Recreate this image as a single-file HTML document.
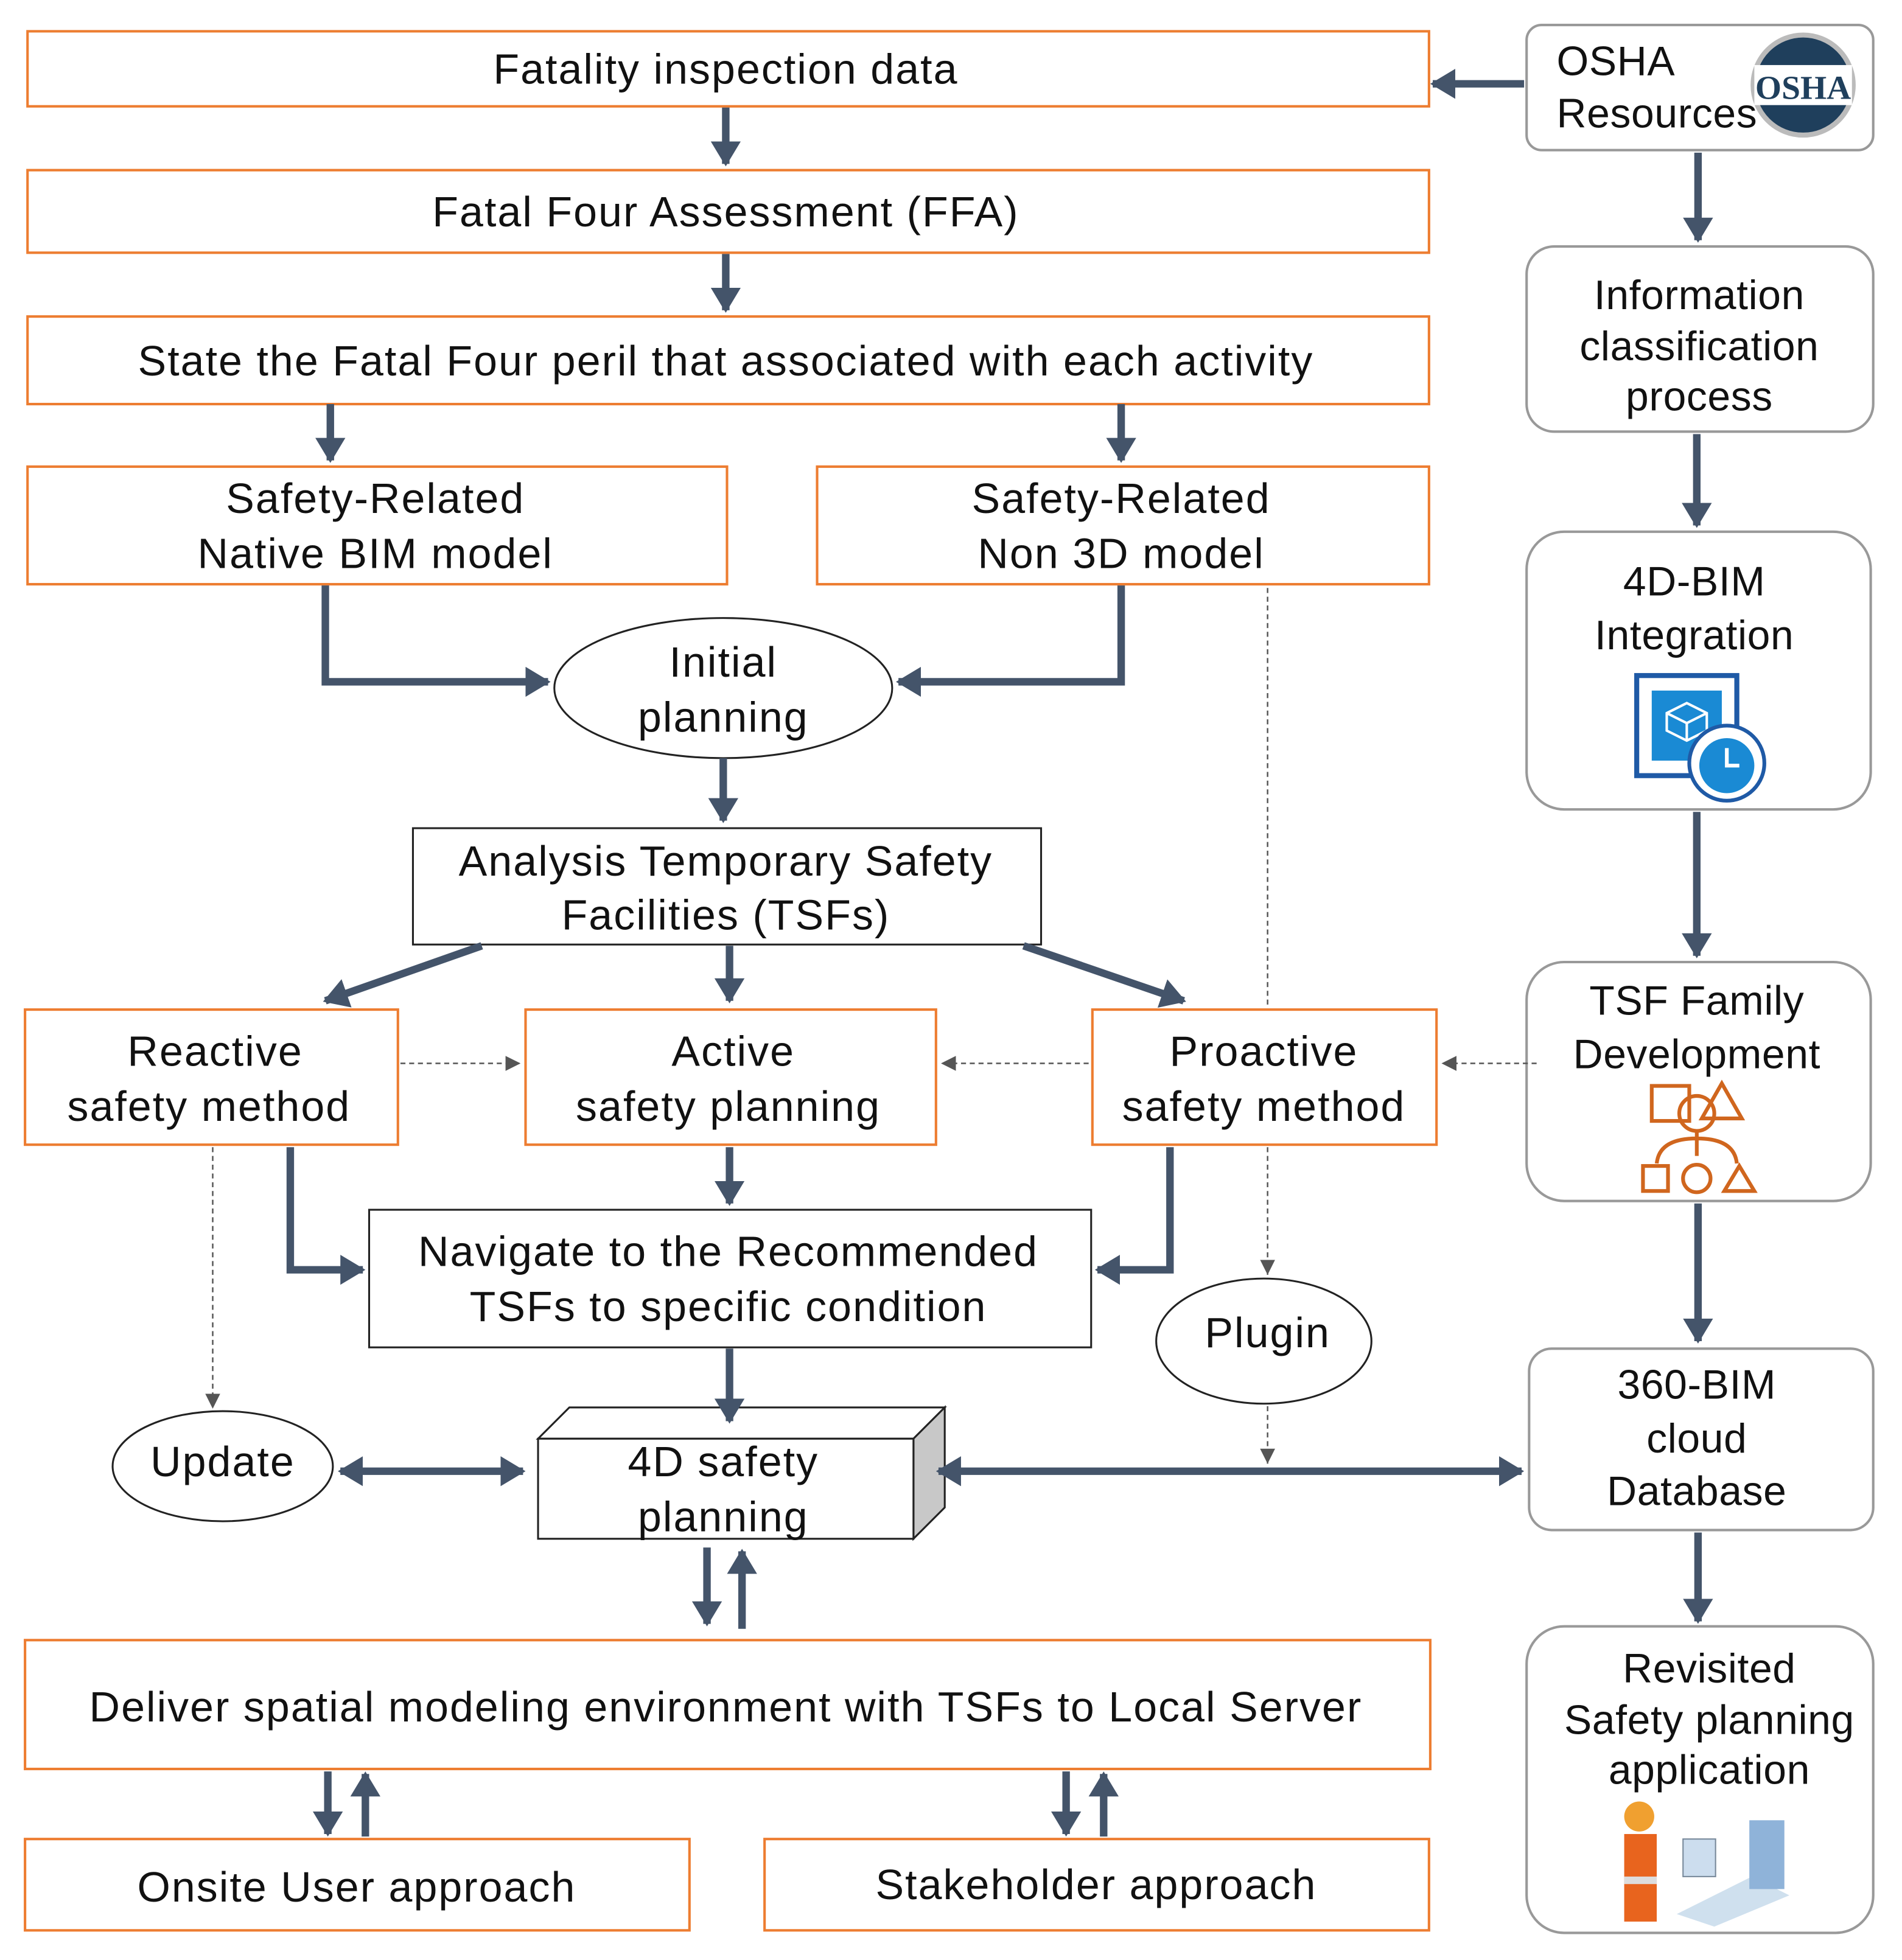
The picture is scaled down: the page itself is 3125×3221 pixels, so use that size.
<!DOCTYPE html>
<html><head><meta charset="utf-8"><style>html,body{margin:0;padding:0;background:#fff}svg{display:block}</style></head>
<body>
<svg width="3125" height="3221" viewBox="0 0 1520 1566.7" preserveAspectRatio="none" xmlns="http://www.w3.org/2000/svg" font-family="Liberation Sans, Arial, sans-serif" font-size="34" letter-spacing="1" fill="#111">
<defs>
<marker id="a" markerUnits="userSpaceOnUse" markerWidth="26" markerHeight="24" refX="18" refY="12" orient="auto"><path d="M0,0 L20,12 L0,24 Z" fill="#44546a"/></marker>
<marker id="b" markerUnits="userSpaceOnUse" markerWidth="26" markerHeight="24" refX="18" refY="12" orient="auto-start-reverse"><path d="M0,0 L20,12 L0,24 Z" fill="#44546a"/></marker>
<marker id="d" markerUnits="userSpaceOnUse" markerWidth="14" markerHeight="12" refX="12" refY="6" orient="auto"><path d="M0,0 L12,6 L0,12 Z" fill="#555"/></marker>
</defs>
<g fill="#fff" stroke="#ed7d31" stroke-width="2">
<rect x="22" y="25" width="1120" height="60"/>
<rect x="22" y="136" width="1120" height="66"/>
<rect x="22" y="253" width="1120" height="70"/>
<rect x="22" y="373" width="559" height="94"/>
<rect x="653" y="373" width="489" height="94"/>
<rect x="20" y="807" width="298" height="108"/>
<rect x="420" y="807" width="328" height="108"/>
<rect x="873" y="807" width="275" height="108"/>
<rect x="20" y="1311" width="1123" height="103"/>
<rect x="20" y="1470" width="531" height="73"/>
<rect x="611" y="1470" width="531" height="73"/>
</g>
<g fill="#fff" stroke="#222" stroke-width="1.5">
<rect x="330" y="662" width="502" height="93"/>
<rect x="295" y="967" width="577" height="110"/>
<ellipse cx="578" cy="550" rx="135" ry="56"/>
<ellipse cx="1010" cy="1072" rx="86" ry="50"/>
<ellipse cx="178" cy="1172" rx="88" ry="44"/>
<polygon points="430,1150 455,1125 755,1125 730,1150"/>
<polygon points="730,1150 755,1125 755,1205 730,1230" fill="#c8c8c8"/>
<rect x="430" y="1150" width="300" height="80"/>
</g>
<g fill="#fff" stroke="#999" stroke-width="2">
<rect x="1220" y="20" width="277" height="100" rx="12"/>
<rect x="1220" y="197" width="277" height="148" rx="22"/>
<rect x="1220" y="425" width="275" height="222" rx="30"/>
<rect x="1220" y="769" width="275" height="191" rx="30"/>
<rect x="1222" y="1078" width="275" height="145" rx="18"/>
<rect x="1220" y="1300" width="277" height="245" rx="30"/>
</g>
<g stroke="#44546a" stroke-width="6" fill="none" marker-end="url(#a)">
<path d="M1218,67 H1145"/>
<path d="M580,86 V131"/><path d="M580,203 V248"/>
<path d="M264,323 V368"/><path d="M896,323 V368"/>
<path d="M260,468 V545 H438"/><path d="M896,468 V545 H718"/>
<path d="M578,606 V656"/>
<path d="M385,756 L260,800"/><path d="M583,756 V800"/><path d="M818,756 L946,800"/>
<path d="M583,917 V962"/>
<path d="M232,917 V1015 H290"/><path d="M935,917 V1015 H877"/>
<path d="M583,1078 V1136"/>
<path d="M565,1237 V1298"/><path d="M593,1302 V1240"/>
<path d="M262,1416 V1466"/><path d="M292,1468 V1418"/>
<path d="M852,1416 V1466"/><path d="M882,1468 V1418"/>
<path d="M1357,122 V192"/><path d="M1356,347 V420"/><path d="M1356,649 V764"/>
<path d="M1357,962 V1072"/><path d="M1357,1225 V1296"/>
<path d="M272,1176 H418" marker-start="url(#b)"/>
<path d="M750,1176 H1216" marker-start="url(#b)"/>
</g>
<g stroke="#555" stroke-width="1.2" stroke-dasharray="4,3" fill="none">
<path d="M320,850 H416" marker-end="url(#d)"/>
<path d="M870,850 H752" marker-end="url(#d)"/>
<path d="M1228,850 H1152" marker-end="url(#d)"/>
<path d="M1013,470 V805"/>
<path d="M1013,917 V1019" marker-end="url(#d)"/>
<path d="M1013,1124 V1170" marker-end="url(#d)"/>
<path d="M170,917 V1126" marker-end="url(#d)"/>
</g>
<g text-anchor="middle">
<text x="580" y="67">Fatality inspection data</text>
<text x="580" y="181">Fatal Four Assessment (FFA)</text>
<text x="580" y="300">State the Fatal Four peril that associated with each activity</text>
<text x="300" y="410">Safety-Related</text><text x="300" y="454">Native BIM model</text>
<text x="896" y="410">Safety-Related</text><text x="896" y="454">Non 3D model</text>
<text x="578" y="541">Initial</text><text x="578" y="585">planning</text>
<text x="580" y="700">Analysis Temporary Safety</text><text x="580" y="743">Facilities (TSFs)</text>
<text x="172" y="852">Reactive</text><text x="167" y="896">safety method</text>
<text x="586" y="852">Active</text><text x="582" y="896">safety planning</text>
<text x="1010" y="852">Proactive</text><text x="1010" y="896">safety method</text>
<text x="582" y="1012">Navigate to the Recommended</text><text x="582" y="1056">TSFs to specific condition</text>
<text x="1013" y="1077">Plugin</text>
<text x="178" y="1180">Update</text>
<text x="578" y="1180">4D safety</text><text x="578" y="1224">planning</text>
<text x="580" y="1376">Deliver spatial modeling environment with TSFs to Local Server</text>
<text x="285" y="1520">Onsite User approach</text>
<text x="876" y="1518">Stakeholder approach</text>
</g>
<g text-anchor="middle" letter-spacing="0.3" font-size="33">
<text x="1358" y="247">Information</text><text x="1358" y="288">classification</text><text x="1358" y="328">process</text>
<text x="1354" y="476">4D-BIM</text><text x="1354" y="519">Integration</text>
<text x="1356" y="811">TSF Family</text><text x="1356" y="854">Development</text>
<text x="1356" y="1118">360-BIM</text><text x="1356" y="1161">cloud</text><text x="1356" y="1203">Database</text>
<text x="1366" y="1345">Revisited</text><text x="1366" y="1386">Safety planning</text><text x="1366" y="1426">application</text>
</g>
<g letter-spacing="0.3" font-size="33">
<text x="1244" y="60">OSHA</text><text x="1244" y="102">Resources</text>
</g>
<circle cx="1441" cy="68" r="40" fill="#1f3f5c" stroke="#bbb" stroke-width="4"/>
<rect x="1402" y="52" width="78" height="32" fill="#fff"/>
<text x="1441" y="79" text-anchor="middle" letter-spacing="0" font-family="Liberation Serif, serif" font-weight="bold" font-size="27" fill="#1f3f5c">OSHA</text>
<rect x="1308" y="540" width="80" height="80" fill="#fff" stroke="#1f5aa6" stroke-width="4"/>
<rect x="1320" y="552" width="56" height="56" fill="#1a8ad4"/>
<path d="M1332,570 l16,-8 16,8 v14 l-16,8 -16,-8 z M1332,570 l16,8 16,-8 M1348,578 v14" stroke="#fff" stroke-width="2" fill="none"/>
<circle cx="1380" cy="610" r="30" fill="#fff" stroke="#1f5aa6" stroke-width="3"/>
<circle cx="1380" cy="612" r="22" fill="#1a8ad4"/>
<path d="M1380,598 v14 h10" stroke="#fff" stroke-width="3" fill="none"/>
<g stroke="#d0661e" stroke-width="3" fill="none">
<rect x="1320" y="868" width="30" height="28"/><circle cx="1356" cy="890" r="14"/><path d="M1360,894 L1376,866 L1392,894 Z"/>
<path d="M1356,904 v20 M1356,910 q-30,0 -32,20 M1356,910 q30,0 32,20"/>
<rect x="1313" y="932" width="20" height="20"/><circle cx="1356" cy="942" r="11"/><path d="M1378,952 L1390,932 L1402,952 Z"/>
</g>
<g>
<circle cx="1310" cy="1452" r="12" fill="#f0a030"/>
<rect x="1298" y="1466" width="26" height="70" fill="#e8641e"/>
<rect x="1298" y="1500" width="26" height="6" fill="#ddd"/>
<rect x="1345" y="1470" width="26" height="30" fill="#cde" stroke="#789"/>
<path d="M1340,1530 L1400,1500 L1430,1515 L1370,1540 Z" fill="#cfe0ee"/>
<rect x="1398" y="1455" width="28" height="55" fill="#8fb3d9"/>
</g>
</svg>
</body></html>
